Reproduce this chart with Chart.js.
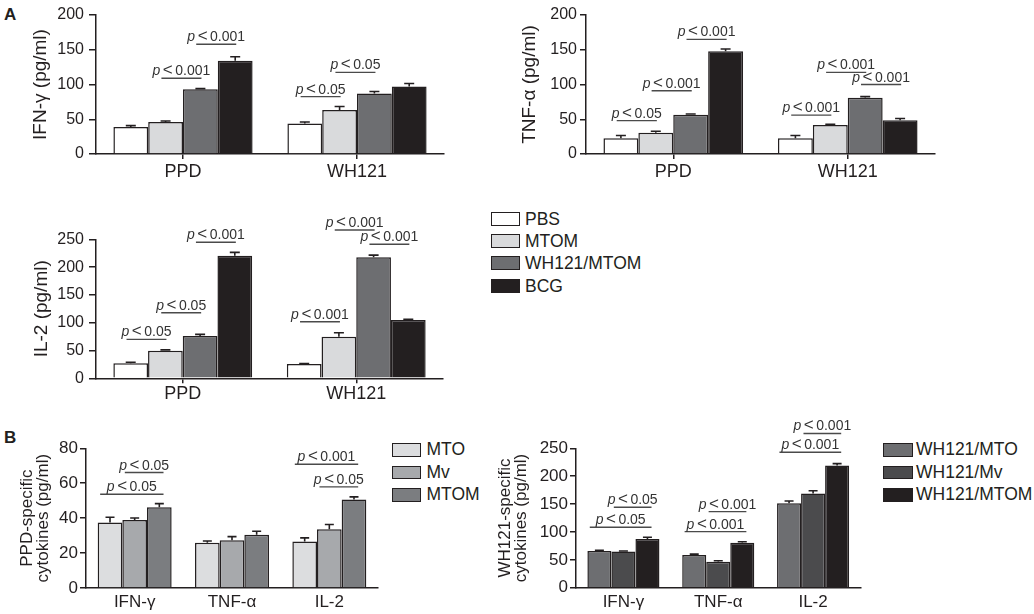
<!DOCTYPE html>
<html>
<head>
<meta charset="utf-8">
<script src="https://cdn.jsdelivr.net/npm/chart.js@4.4.1/dist/chart.umd.min.js"></script>
<style>
body { margin: 0; background: #fff; width: 1034px; height: 614px; position: relative; overflow: hidden;
       font-family: "Liberation Sans", Arial, sans-serif; color: #231f20; }
canvas { position: absolute; }
.lbl { position: absolute; font-weight: bold; font-size: 17px; line-height: 17px; }
.leg { position: absolute; font-size: 17.5px; }
.leg .row { position: absolute; left: 0; display: flex; align-items: center; white-space: nowrap; }
.leg .box { border: 1.5px solid #231f20; box-sizing: border-box; }
</style>
</head>
<body>
<div class="lbl" style="left:4px;top:6px">A</div>
<div class="lbl" style="left:4px;top:429px">B</div>

<canvas id="ifn" width="460" height="190" style="left:0;top:0"></canvas>
<canvas id="tnf" width="460" height="190" style="left:500px;top:0"></canvas>
<canvas id="il2" width="460" height="210" style="left:0;top:200px"></canvas>
<canvas id="ppd" width="390" height="204" style="left:0;top:410px"></canvas>
<canvas id="wh" width="384" height="204" style="left:490px;top:410px"></canvas>

<div class="leg" id="legA" style="left:491px;top:212px"></div>
<div class="leg" id="legB1" style="left:392px;top:443px"></div>
<div class="leg" id="legB2" style="left:883px;top:443px"></div>

<script>
// panel A: rows are the series, columns follow groupsA
const groupsA = ['PPD', 'WH121'];
const seriesA = ['PBS', 'MTOM', 'WH121/MTOM', 'BCG'];
const coloursA = ['#ffffff', '#d9dadc', '#6d6e71', '#231f20'];

const ifnMean = [[38.8, 44], [46, 63.3], [93, 87], [134, 97]];
const ifnSem = [[2, 2], [1.5, 5], [1, 3], [6, 4.5]];
const tnfMean = [[22.6, 22.6], [30.7, 41.7], [56.5, 81], [148, 48.5]];
const tnfSem = [[4, 4], [2, 1], [1, 1.5], [3, 2.5]];
const il2Mean = [[27, 25.7], [49.7, 74.8], [76, 217.6], [220.5, 105]];
const il2Sem = [[2, 1], [1.5, 7], [3, 4], [6, 1]];

// significance bars: [from series, to series, group, height in pg/ml, p]
const ifnSig = [[1, 2, 0, 109, '0.001'], [2, 3, 0, 158, '0.001'], [0, 1, 1, 82.5, '0.05'], [1, 2, 1, 117.5, '0.05']];
const tnfSig = [[0, 1, 0, 48, '0.05'], [1, 2, 0, 91, '0.001'], [2, 3, 0, 165, '0.001'],
                [0, 1, 1, 56, '0.001'], [1, 2, 1, 117.5, '0.001'], [2, 3, 1, 100, '0.001']];
const il2Sig = [[0, 1, 0, 70, '0.05'], [1, 2, 0, 118, '0.05'], [2, 3, 0, 244.6, '0.001'],
                [0, 1, 1, 101.8, '0.001'], [1, 2, 1, 266.7, '0.001'], [2, 3, 1, 241, '0.001']];

// panel B: rows are the series, columns follow cytokinesB
const cytokinesB = ['IFN-γ', 'TNF-α', 'IL-2'];
const ppdSeries = ['MTO', 'Mv', 'MTOM'];
const ppdColours = ['#dcdddf', '#a7a9ac', '#7b7d80'];
const ppdMean = [[37.5, 25.9, 26.7], [38.9, 27.4, 33.7], [46.3, 30.5, 50.7]];
const ppdSem = [[3, 1, 2], [1.2, 2, 2.7], [2, 2, 1.5]];
const ppdSig = [[0, 2, 0, 53.7, '0.05'], [1, 2, 0, 66.1, '0.05'], [0, 2, 2, 70.9, '0.001'], [1, 2, 2, 57.9, '0.05']];

const whSeries = ['WH121/MTO', 'WH121/Mv', 'WH121/MTOM'];
const whColours = ['#6d6e71', '#4b4b4d', '#231f20'];
const whMean = [[65.9, 58.7, 151.5], [64.7, 46.7, 168.8], [87.4, 80.8, 219]];
const whSem = [[1.3, 1.5, 4], [1, 1.5, 5], [3, 1.5, 3.5]];
const whSig = [[0, 2, 0, 108.4, '0.05'], [1, 2, 0, 144.4, '0.05'], [0, 2, 1, 100.5, '0.001'],
               [1, 2, 1, 136.4, '0.001'], [0, 2, 2, 243, '0.001'], [1, 2, 2, 276.6, '0.001']];

const ink = '#231f20';
const fam = '"Liberation Sans", Arial, sans-serif';
Chart.defaults.color = ink;
Chart.defaults.font.family = fam;

// error bars (upper half only) and the p-value bars
function extras(sems, sigs, o) {
  return {
    id: 'extras',
    afterDatasetsDraw(chart) {
      const ctx = chart.ctx, y = chart.scales.y;
      ctx.save();
      ctx.strokeStyle = ink;
      ctx.lineWidth = 1.6;
      chart.data.datasets.forEach((ds, i) => {
        chart.getDatasetMeta(i).data.forEach((bar, j) => {
          const top = y.getPixelForValue(ds.data[j] + sems[i][j]);
          ctx.beginPath();
          ctx.moveTo(bar.x, bar.y);
          ctx.lineTo(bar.x, top);
          ctx.moveTo(bar.x - o.cap / 2, top);
          ctx.lineTo(bar.x + o.cap / 2, top);
          ctx.stroke();
        });
      });

      sigs.forEach(([a, b, g, h, p]) => {
        const ba = chart.getDatasetMeta(a).data[g];
        const bb = chart.getDatasetMeta(b).data[g];
        const x1 = ba.x - o.lead * ba.width;
        const x2 = bb.x + o.tail * bb.width;
        const yy = y.getPixelForValue(h);
        ctx.strokeStyle = '#4a4a4a';
        ctx.lineWidth = 1.4;
        ctx.beginPath();
        ctx.moveTo(x1, yy);
        ctx.lineTo(x2, yy);
        ctx.stroke();

        const parts = [['p', 'italic 14px ' + fam], ['<', '17px ' + fam], [p, '14px ' + fam]];
        const gap = 2.5;
        let total = -gap;
        parts.forEach(([t, f]) => { ctx.font = f; total += ctx.measureText(t).width + gap; });
        let x = (x1 + x2) / 2 - total / 2;
        ctx.fillStyle = '#333';
        ctx.textBaseline = 'alphabetic';
        ctx.textAlign = 'left';
        parts.forEach(([t, f]) => {
          ctx.font = f;
          ctx.fillText(t, x, yy - 3);
          x += ctx.measureText(t).width + gap;
        });
      });
      ctx.restore();
    }
  };
}

function drawPanel(id, labels, names, colours, means, sems, sigs, o) {
  new Chart(document.getElementById(id), {
    type: 'bar',
    data: {
      labels: labels,
      datasets: names.map((n, i) => ({
        label: n,
        data: means[i],
        backgroundColor: colours[i],
        borderColor: ink,
        borderWidth: 1.5,
        barPercentage: 1,
        categoryPercentage: o.cat
      }))
    },
    options: {
      responsive: false,
      animation: false,
      layout: { padding: o.pad },
      plugins: { legend: { display: false }, tooltip: { enabled: false } },
      scales: {
        x: {
          offset: true,
          grid: { display: o.xTicks, drawOnChartArea: false, offset: false, drawTicks: o.xTicks,
                  tickLength: 5, tickColor: ink, lineWidth: 1.5 },
          border: { color: ink, width: 1.5 },
          ticks: { color: ink, font: { size: o.catSize }, padding: o.catPad, maxRotation: 0 },
          afterFit(s) { s.height = o.xHeight; }
        },
        y: {
          min: 0,
          max: o.ymax,
          grid: { drawOnChartArea: false, tickLength: o.tickLen, tickColor: ink, lineWidth: 1.5 },
          border: { color: ink, width: 1.5 },
          ticks: { stepSize: o.step, color: ink, font: { size: o.tickSize }, padding: o.tickPad },
          title: { display: true, text: o.title, color: ink,
                   font: { size: o.titleSize, lineHeight: o.titleLine },
                   padding: { top: o.titlePad, bottom: 0 } },
          afterFit(s) { s.width = o.yWidth; }
        }
      }
    },
    plugins: [extras(sems, sigs, o)]
  });
}

const styleA = { cat: 0.8, xTicks: true, catSize: 18, catPad: 2, tickSize: 16, titleSize: 19,
                 titleLine: 1.2, cap: 10, lead: 0.12, tail: 0.03, xHeight: 36 };

drawPanel('ifn', groupsA, seriesA, coloursA, ifnMean, ifnSem, ifnSig, Object.assign({}, styleA, {
  pad: { left: 0, top: 15, right: 16, bottom: 0 }, ymax: 200, step: 50, title: 'IFN-γ (pg/ml)',
  titlePad: 29.6, yWidth: 96, tickLen: 7, tickPad: 5 }));

drawPanel('tnf', groupsA, seriesA, coloursA, tnfMean, tnfSem, tnfSig, Object.assign({}, styleA, {
  pad: { left: 0, top: 15, right: 25, bottom: 0 }, ymax: 200, step: 50, title: 'TNF-α (pg/ml)',
  titlePad: 18.6, yWidth: 86, tickLen: 6, tickPad: 3 }));

drawPanel('il2', groupsA, seriesA, coloursA, il2Mean, il2Sem, il2Sig, Object.assign({}, styleA, {
  pad: { left: 0, top: 39.3, right: 17, bottom: 0 }, ymax: 250, step: 50, title: 'IL-2 (pg/ml)',
  titlePad: 30, yWidth: 96, tickLen: 7, tickPad: 5, xHeight: 31.7, catPad: 0 }));

const styleB = { cat: 0.76, xTicks: false, catSize: 17, catPad: 4, tickSize: 17, titleSize: 17,
                 titleLine: 0.95, cap: 9, lead: 0.4, tail: 0.17, yWidth: 86, tickLen: 6, tickPad: 2 };

drawPanel('ppd', cytokinesB, ppdSeries, ppdColours, ppdMean, ppdSem, ppdSig, Object.assign({}, styleB, {
  pad: { left: 0, top: 38.3, right: 12, bottom: 0 }, ymax: 80, step: 20,
  title: ['PPD-specific', 'cytokines (pg/ml)'], titlePad: 19, xHeight: 26 }));

drawPanel('wh', cytokinesB, whSeries, whColours, whMean, whSem, whSig, Object.assign({}, styleB, {
  pad: { left: 0, top: 38.3, right: 13.5, bottom: 0 }, ymax: 250, step: 50,
  title: ['WH121-specific', 'cytokines (pg/ml)'], titlePad: 7, xHeight: 26.3 }));

// legends
function legend(id, names, colours, boxW, boxH, step, gap) {
  const el = document.getElementById(id);
  names.forEach((n, i) => {
    const row = document.createElement('div');
    row.className = 'row';
    row.style.top = (i * step) + 'px';
    row.style.height = boxH + 'px';
    const box = document.createElement('div');
    box.className = 'box';
    box.style.width = boxW + 'px';
    box.style.height = boxH + 'px';
    box.style.background = colours[i];
    const txt = document.createElement('span');
    txt.textContent = n;
    txt.style.marginLeft = gap + 'px';
    txt.style.lineHeight = boxH + 'px';
    row.appendChild(box);
    row.appendChild(txt);
    el.appendChild(row);
  });
}
legend('legA', seriesA, coloursA, 29, 14, 22.2, 5);
legend('legB1', ppdSeries, ppdColours, 29, 13.5, 22.5, 5.5);
legend('legB2', whSeries, whColours, 30, 13.5, 22.5, 3);
</script>
</body>
</html>
